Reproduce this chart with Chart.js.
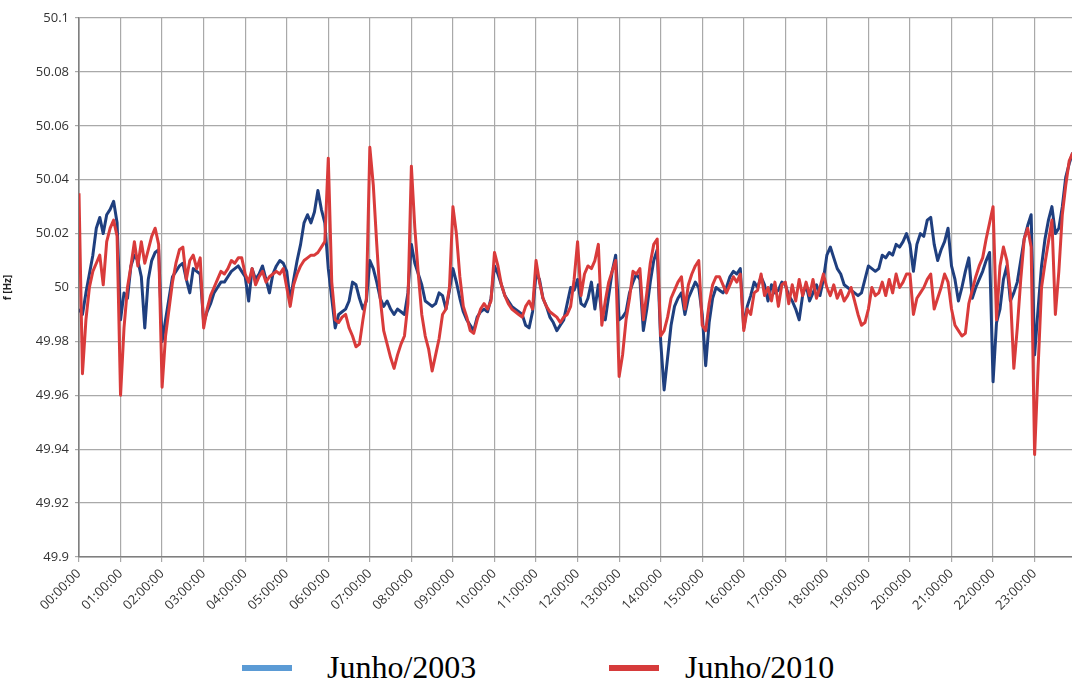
<!DOCTYPE html>
<html>
<head>
<meta charset="utf-8">
<title>Frequência Junho 2003 / 2010</title>
<script src="https://cdn.jsdelivr.net/npm/chart.js@4.4.1/dist/chart.umd.min.js"></script>
<style>
  body { margin: 0; background: #fff; }
  #wrap { position: relative; width: 1072px; height: 680px; overflow: hidden; }
  #chartBox { position: absolute; left: 0; top: 0; width: 1072px; height: 640px; }
  .sw { position: absolute; width: 50px; height: 6px; }
  .lg { position: absolute; font-family: "Liberation Serif", "Times New Roman", serif; font-size: 32px; line-height: 32px; color: #000; white-space: nowrap; }
</style>
</head>
<body>
<div id="wrap">
  <div id="chartBox"><canvas id="myChart"></canvas></div>
  <div class="sw" style="left:242px; top:665px; background:#5b9bd5;"></div>
  <div class="lg" id="lg0" style="left:327px; top:651px;"></div>
  <div class="sw" style="left:609px; top:665px; background:#d63b3b;"></div>
  <div class="lg" id="lg1" style="left:685px; top:651px;"></div>
</div>
<script>
// nomes das series e rotulos do eixo x
const seriesNames = ["Junho/2003", "Junho/2010"];
const hourLabels = [
  "00:00:00", "01:00:00", "02:00:00", "03:00:00", "04:00:00", "05:00:00",
  "06:00:00", "07:00:00", "08:00:00", "09:00:00", "10:00:00", "11:00:00",
  "12:00:00", "13:00:00", "14:00:00", "15:00:00", "16:00:00", "17:00:00",
  "18:00:00", "19:00:00", "20:00:00", "21:00:00", "22:00:00", "23:00:00"
];
const yTicks = [49.9, 49.92, 49.94, 49.96, 49.98, 50, 50.02, 50.04, 50.06, 50.08, 50.1];

// frequencia [Hz], uma leitura a cada 5 minutos (12 por linha = 1 hora)
const f2003 = [
  49.992, 49.990, 49.998, 50.005, 50.012, 50.022, 50.026, 50.020, 50.027, 50.029, 50.032, 50.024,
  49.988, 49.998, 49.996, 50.008, 50.012, 50.010, 50.004, 49.985, 50.003, 50.010, 50.013, 50.014,
  49.980, 49.988, 49.996, 50.004, 50.006, 50.008, 50.009, 50.003, 49.998, 50.007, 50.006, 50.005,
  49.987, 49.991, 49.994, 49.998, 50.000, 50.002, 50.002, 50.004, 50.006, 50.007, 50.008, 50.006,
  50.004, 49.995, 50.007, 50.003, 50.005, 50.008, 50.003, 49.998, 50.005, 50.008, 50.010, 50.009,
  50.006, 49.995, 50.003, 50.010, 50.016, 50.024, 50.027, 50.024, 50.028, 50.036, 50.029, 50.024,
  50.007, 49.996, 49.985, 49.990, 49.991, 49.992, 49.995, 50.002, 50.001, 49.996, 49.992, 49.995,
  50.010, 50.007, 50.002, 49.996, 49.993, 49.995, 49.992, 49.990, 49.992, 49.991, 49.990, 49.998,
  50.016, 50.009, 50.005, 50.001, 49.995, 49.994, 49.993, 49.994, 49.998, 49.997, 49.992, 49.999,
  50.007, 50.002, 49.996, 49.991, 49.988, 49.986, 49.984, 49.989, 49.991, 49.992, 49.991, 49.996,
  50.008, 50.005, 50.001, 49.997, 49.995, 49.993, 49.992, 49.991, 49.990, 49.986, 49.985, 49.991,
  50.005, 50.003, 49.996, 49.993, 49.989, 49.987, 49.984, 49.986, 49.988, 49.994, 50.000, 49.999,
  50.003, 49.994, 49.993, 49.996, 50.002, 49.992, 50.001, 49.990, 49.988, 49.997, 50.006, 50.012,
  49.988, 49.989, 49.991, 49.998, 50.002, 50.005, 50.003, 49.984, 49.992, 50.002, 50.010, 50.014,
  49.980, 49.962, 49.974, 49.986, 49.993, 49.996, 49.998, 49.990, 49.996, 49.999, 50.002, 50.000,
  49.990, 49.971, 49.987, 49.996, 50.000, 49.999, 49.998, 50.000, 50.004, 50.006, 50.005, 50.007,
  49.985, 49.993, 49.997, 50.002, 50.000, 50.004, 50.001, 49.995, 50.001, 49.998, 49.999, 50.002,
  50.001, 49.997, 49.995, 49.992, 49.988, 49.997, 50.001, 49.995, 49.998, 50.001, 49.997, 50.003,
  50.012, 50.015, 50.011, 50.007, 50.005, 50.001, 50.000, 49.999, 49.998, 49.997, 49.998, 50.003,
  50.008, 50.007, 50.006, 50.007, 50.012, 50.011, 50.013, 50.012, 50.016, 50.015, 50.017, 50.020,
  50.016, 50.006, 50.016, 50.020, 50.019, 50.025, 50.026, 50.016, 50.010, 50.014, 50.017, 50.022,
  50.008, 50.003, 49.995, 50.000, 50.006, 50.011, 49.996, 50.000, 50.003, 50.006, 50.010, 50.013,
  49.965, 49.987, 49.992, 50.003, 50.008, 49.995, 49.998, 50.002, 50.010, 50.018, 50.023, 50.027,
  49.975, 49.992, 50.008, 50.018, 50.025, 50.030, 50.020, 50.022, 50.030, 50.041, 50.046, 50.050
];
const f2010 = [
  50.035, 49.968, 49.988, 50.000, 50.006, 50.009, 50.012, 50.001, 50.017, 50.022, 50.025, 50.019,
  49.960, 49.985, 50.000, 50.008, 50.017, 50.008, 50.017, 50.009, 50.014, 50.019, 50.022, 50.016,
  49.963, 49.982, 49.992, 50.002, 50.009, 50.014, 50.015, 50.003, 50.010, 50.012, 50.007, 50.011,
  49.985, 49.992, 49.997, 50.000, 50.003, 50.006, 50.005, 50.007, 50.010, 50.009, 50.011, 50.011,
  50.005, 50.002, 50.007, 50.001, 50.004, 50.006, 50.002, 50.004, 50.005, 50.006, 50.005, 50.007,
  50.000, 49.993, 50.001, 50.005, 50.008, 50.010, 50.011, 50.012, 50.012, 50.013, 50.015, 50.017,
  50.048, 50.002, 49.988, 49.987, 49.989, 49.990, 49.985, 49.982, 49.978, 49.979, 49.988, 49.996,
  50.052, 50.038, 50.016, 49.996, 49.984, 49.979, 49.974, 49.970, 49.975, 49.979, 49.982, 49.994,
  50.045, 50.022, 50.005, 49.990, 49.982, 49.977, 49.969, 49.975, 49.981, 49.990, 49.992, 50.000,
  50.030, 50.020, 50.004, 49.993, 49.989, 49.984, 49.983, 49.988, 49.992, 49.994, 49.992, 49.995,
  50.013, 50.008, 50.001, 49.997, 49.994, 49.992, 49.991, 49.990, 49.989, 49.993, 49.995, 49.992,
  50.010, 50.002, 49.996, 49.993, 49.991, 49.990, 49.989, 49.987, 49.989, 49.990, 49.993, 50.003,
  50.017, 49.997, 50.005, 50.008, 50.007, 50.010, 50.016, 49.986, 49.995, 50.002, 50.006, 50.010,
  49.967, 49.975, 49.988, 49.996, 50.006, 50.005, 50.007, 49.988, 49.998, 50.009, 50.016, 50.018,
  49.982, 49.984, 49.989, 49.996, 49.999, 50.002, 50.004, 49.992, 50.001, 50.005, 50.008, 50.010,
  49.986, 49.984, 49.994, 50.001, 50.004, 50.004, 50.001, 49.998, 50.001, 50.004, 50.002, 50.005,
  49.984, 49.992, 49.990, 49.998, 49.999, 50.005, 49.997, 50.000, 49.995, 50.002, 49.993, 50.001,
  50.002, 49.994, 50.001, 49.995, 50.003, 49.997, 50.002, 49.997, 50.003, 49.996, 50.000, 50.005,
  50.000, 49.997, 50.001, 49.996, 49.999, 49.995, 49.997, 50.000, 49.995, 49.990, 49.986, 49.987,
  49.992, 50.000, 49.997, 49.998, 50.002, 49.997, 50.003, 49.998, 50.005, 50.000, 50.002, 50.005,
  50.005, 49.990, 49.996, 49.998, 50.000, 50.003, 50.005, 49.992, 49.996, 50.000, 50.005, 50.002,
  49.992, 49.986, 49.984, 49.982, 49.983, 49.994, 49.999, 50.004, 50.008, 50.011, 50.018, 50.024,
  50.030, 49.988, 50.008, 50.015, 50.010, 49.998, 49.970, 49.985, 50.003, 50.018, 50.022, 50.015,
  49.938, 49.970, 50.000, 50.009, 50.017, 50.025, 49.990, 50.006, 50.027, 50.038, 50.047, 50.050
];

// minuto do dia de cada leitura
const minutos = f2003.map((v, i) => i * 5);

document.getElementById("lg0").textContent = seriesNames[0];
document.getElementById("lg1").textContent = seriesNames[1];

const grafica = document.getElementById("myChart").getContext("2d");
const tickFont = { family: "'Open Sans', 'Liberation Sans', sans-serif", size: 13 };

const myChart = new Chart(grafica, {
  type: "line",
  data: {
    datasets: [
      {
        label: seriesNames[0],
        data: minutos.map((m, i) => ({ x: m, y: f2003[i] })),
        borderColor: "#1f3f7f",
        borderWidth: 3,
        order: 2
      },
      {
        label: seriesNames[1],
        data: minutos.map((m, i) => ({ x: m, y: f2010[i] })),
        borderColor: "#d93b3b",
        borderWidth: 3,
        order: 1
      }
    ]
  },
  options: {
    responsive: true,
    maintainAspectRatio: false,
    animation: false,
    layout: { padding: { top: 18, right: 0, left: 0, bottom: 0 } },
    elements: {
      point: { radius: 0 },
      line: { tension: 0, borderJoinStyle: "round", fill: false }
    },
    plugins: {
      legend: { display: false },
      tooltip: { enabled: false }
    },
    scales: {
      x: {
        type: "linear",
        min: 0,
        max: 1434,
        afterBuildTicks: (s) => { s.ticks = s.ticks.filter(t => t.value % 60 === 0); },
        afterFit: (s) => { s.height = 83; },
        ticks: {
          stepSize: 60,
          autoSkip: false,
          minRotation: 45,
          maxRotation: 45,
          padding: 4,
          color: "#333",
          font: tickFont,
          callback: (v) => hourLabels[Math.round(v / 60)]
        },
        grid: { color: "#a9a9a9", lineWidth: 1.2, tickLength: 5 },
        border: { color: "#7f7f7f", width: 1.6 }
      },
      y: {
        min: 49.9,
        max: 50.1,
        afterBuildTicks: (s) => { s.ticks = yTicks.map(v => ({ value: v })); },
        afterFit: (s) => { s.width = 79; },
        ticks: {
          color: "#333",
          font: tickFont,
          padding: 6,
          callback: (v) => String(+v.toFixed(2))
        },
        title: {
          display: true,
          text: "f [Hz]",
          color: "#222",
          font: { family: "'Open Sans', sans-serif", size: 10, weight: "bold" },
          padding: { top: 2, bottom: 0 }
        },
        grid: { color: "#a9a9a9", lineWidth: 1.2, tickLength: 4 },
        border: { color: "#7f7f7f", width: 1.6 }
      }
    }
  }
});
</script>
</body>
</html>
